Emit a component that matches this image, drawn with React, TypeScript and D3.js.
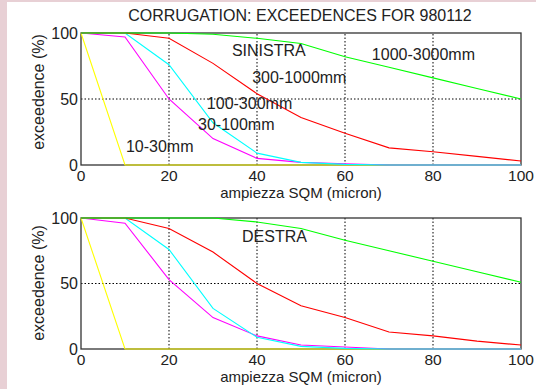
import * as d3 from "d3";

// x samples (micron)
const amplitudes = [0, 10, 20, 30, 40, 50, 60, 70, 80, 90, 100];

const wavebands = ["10-30mm", "30-100mm", "100-300mm", "300-1000mm", "1000-3000mm"];
const bandColors = ["#ffff00", "#ff00ff", "#00ffff", "#ff0000", "#00ff00"];

// SINISTRA (left rail)
const sin10_30 = [100, 0, 0, 0, 0, 0, 0, 0, 0, 0, 0];
const sin30_100 = [100, 97, 50, 20, 5, 2, 1, 0, 0, 0, 0];
const sin100_300 = [100, 100, 76, 32, 9, 2, 0.5, 0, 0, 0, 0];
const sin300_1000 = [100, 100, 96, 77, 54, 36, 24, 13, 10, 6.5, 3];
const sin1000_3000 = [100, 100, 100, 99, 96, 92, 82, 74, 66, 58, 50];

// DESTRA (right rail)
const des10_30 = [100, 0, 0, 0, 0, 0, 0, 0, 0, 0, 0];
const des30_100 = [100, 96, 53, 24, 10, 3, 1.5, 0, 0, 0, 0];
const des100_300 = [100, 100, 76, 31, 9, 2, 0.5, 0, 0, 0, 0];
const des300_1000 = [100, 100, 92, 74, 50, 33, 24, 13, 10, 6, 3];
const des1000_3000 = [100, 100, 100, 100, 97, 92, 83, 75, 67, 59, 51];

const xTicks = [0, 20, 40, 60, 80, 100];
const yTicks = [0, 50, 100];

const FONT = "Liberation Sans, Arial, sans-serif";
const TEXT = "#222";

type Note = { text: string; x: number; y: number };

type PanelProps = {
  top: number;
  bottom: number;
  series: number[][];
  notes: Note[];
  yLabelCenter: number;
  xLabelBaseline: number;
};

function Panel({ top, bottom, series, notes, yLabelCenter, xLabelBaseline }: PanelProps) {
  const left = 81;
  const right = 521;
  const x = d3.scaleLinear().domain([0, 100]).range([left, right]);
  const y = d3.scaleLinear().domain([0, 100]).range([bottom, top]);
  const line = d3
    .line<number>()
    .x((_, i) => x(amplitudes[i]))
    .y((d) => y(d));

  return (
    <g>
      {/* grid */}
      {xTicks
        .filter((t) => t > 0 && t < 100)
        .map((t) => (
          <line key={"gx" + t} x1={x(t)} x2={x(t)} y1={y(0)} y2={y(100)}
            stroke="#000" strokeWidth={1} strokeDasharray="1.5,2" />
        ))}
      {yTicks
        .filter((t) => t > 0 && t < 100)
        .map((t) => (
          <line key={"gy" + t} x1={x(0)} x2={x(100)} y1={y(t)} y2={y(t)}
            stroke="#000" strokeWidth={1} strokeDasharray="1.5,2" />
        ))}
      {/* frame */}
      <rect x={left} y={top} width={right - left} height={bottom - top}
        fill="none" stroke="#333" strokeWidth={1.3} />
      {/* data */}
      {series.map((s, i) => (
        <path key={wavebands[i]} d={line(s) || ""} fill="none"
          stroke={bandColors[i]} strokeWidth={1.1} />
      ))}
      {/* tick labels */}
      {xTicks.map((t) => (
        <text key={"tx" + t} x={x(t)} y={bottom + 16} textAnchor="middle"
          fontFamily={FONT} fontSize={15.5} fill={TEXT}>
          {t}
        </text>
      ))}
      {yTicks.map((t) => (
        <text key={"ty" + t} x={left - 3} y={y(t) + 5.5} textAnchor="end"
          fontFamily={FONT} fontSize={16} fill={TEXT}>
          {t}
        </text>
      ))}
      {/* annotations */}
      {notes.map((n) => (
        <text key={n.text} x={x(n.x)} y={y(n.y)} fontFamily={FONT}
          fontSize={16} fill={TEXT}>
          {n.text}
        </text>
      ))}
      <text x={301} y={xLabelBaseline} textAnchor="middle" fontFamily={FONT}
        fontSize={15} fill={TEXT}>
        ampiezza SQM (micron)
      </text>
      <text transform={`translate(44,${yLabelCenter}) rotate(-90)`}
        textAnchor="middle" fontFamily={FONT} fontSize={16} fill={TEXT}>
        exceedence (%)
      </text>
    </g>
  );
}

export default function App() {
  const width = 536;
  const height = 389;
  return (
    <svg width={width} height={height}
      style={{ position: "absolute", left: 0, top: 0, display: "block" }}>
      <rect x={0} y={0} width={width} height={height} fill="#e8d0d5" />
      <rect x={7} y={2} width={width - 7} height={height - 2} fill="#fff" />
      <text x={300} y={21} textAnchor="middle" fontFamily={FONT} fontSize={16} fill={TEXT}>
        CORRUGATION: EXCEEDENCES FOR 980112
      </text>
      <Panel
        top={33}
        bottom={165}
        series={[sin10_30, sin30_100, sin100_300, sin300_1000, sin1000_3000]}
        notes={[
          { text: "SINISTRA", x: 34.3, y: 82.6 },
          { text: "1000-3000mm", x: 66.1, y: 79.5 },
          { text: "300-1000mm", x: 38.9, y: 62.1 },
          { text: "100-300mm", x: 28.6, y: 42.4 },
          { text: "30-100mm", x: 26.6, y: 26.5 },
          { text: "10-30mm", x: 10.2, y: 9.8 },
        ]}
        yLabelCenter={92}
        xLabelBaseline={198}
      />
      <Panel
        top={218}
        bottom={349}
        series={[des10_30, des30_100, des100_300, des300_1000, des1000_3000]}
        notes={[{ text: "DESTRA", x: 36.6, y: 81.7 }]}
        yLabelCenter={283}
        xLabelBaseline={382}
      />
    </svg>
  );
}
